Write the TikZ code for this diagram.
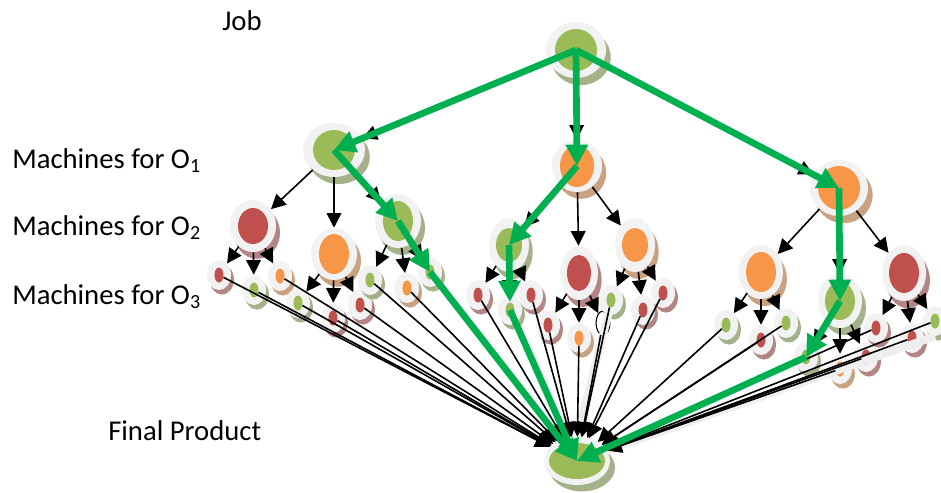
\documentclass[tikz,border=0pt]{standalone}
\usepackage{fontspec}
\setmainfont{Carlito}
\usetikzlibrary{arrows.meta,shapes.geometric}
\definecolor{mgreen}{HTML}{9BBB59}
\definecolor{mred}{HTML}{C0504D}
\definecolor{morange}{HTML}{F79646}
\definecolor{ringc}{HTML}{F2F2F2}
\definecolor{pathg}{HTML}{00B050}
\definecolor{bandc}{HTML}{EEEEEE}
% name, x, y, outer rx, outer ry, inner rx, inner ry, colour (all in px)
\newcommand\machnode[8]{%
  \node[ellipse,inner sep=0pt,fill=#8!50!gray!80!white,minimum width={#4*1.5pt},minimum height={#5*1.5pt}] (#1-s) at ({#2+0.1*#4+1.7},{#3+0.2*#5+1.6}) {};
  \node[ellipse,inner sep=0pt,fill=ringc,minimum width={#4*1.5pt},minimum height={#5*1.5pt}] (#1) at (#2,#3) {};
  \node[ellipse,inner sep=0pt,fill=#8,minimum width={#6*1.5pt},minimum height={#7*1.5pt}] (#1-i) at (#2,#3) {};
}
\newcommand\smallnode[4]{\machnode{#1}{#2}{#3}{12}{15}{4.5}{7.5}{#4}}
\tikzset{
  arr/.style={draw=black,line width=1.2pt,-{Triangle[length=11pt,width=11pt]}},
  garr/.style={draw=pathg,line width=5pt,-{Triangle[length=16pt,width=16pt]}},
  band/.style={draw=bandc,line width=6pt},
  lab/.style={font=\fontsize{21.5}{26}\selectfont,inner sep=0pt,anchor=base west}
}
\begin{document}
\begin{tikzpicture}[x=0.75pt,y=-0.75pt]
\useasboundingbox (0,0) rectangle (941,492);
% labels
\node[lab] (tjob) at (222,31) {Job};
\node[lab] (to1) at (12,168) {Machines for O\textsubscript{1}};
\node[lab] (to2) at (12,235) {Machines for O\textsubscript{2}};
\node[lab] (to3) at (12,304) {Machines for O\textsubscript{3}};
\node[lab] (tfin) at (108,440) {Final Product};
% final node
\machnode{F}{577}{461}{33}{24}{28}{18}{mgreen}
% level 0,1
\machnode{J}{576}{50}{30}{28}{21}{21}{mgreen}
\machnode{A}{334}{150}{31}{27}{21}{20}{mgreen}
\machnode{B}{577}{166}{25}{26}{17}{21}{morange}
\machnode{C}{839}{188}{29}{28}{21}{22}{morange}
% level 2
\machnode{A1}{253}{226}{23}{26}{15}{18}{mred}
\machnode{A2}{334}{254}{23}{26}{15}{20}{morange}
\machnode{A3}{398}{221}{23}{27}{15}{20}{mgreen}
\machnode{B1}{509}{245}{20}{27}{13}{17}{mgreen}
\machnode{B2}{579}{273}{19}{27}{12}{18}{mred}
\machnode{B3}{635}{245}{20}{27}{13}{17}{morange}
\machnode{C1}{761}{272}{22}{27}{15}{20}{morange}
\machnode{C2}{840}{301}{22}{27}{15}{19}{mgreen}
\machnode{C3}{904}{273}{22}{28}{15}{20}{mred}
% level 3
\smallnode{A1a}{219}{275}{mred}
\smallnode{A1b}{254}{290}{mgreen}
\smallnode{A1c}{280}{276}{morange}
\smallnode{A2a}{298}{303}{mgreen}
\smallnode{A2c}{360}{305}{mred}
\smallnode{A2b}{333}{318}{mred}
\smallnode{A3a}{370}{280}{mgreen}
\smallnode{A3b}{407}{288}{morange}
\smallnode{A3c}{430}{272}{mgreen}
\smallnode{B1a}{478}{295}{mred}
\smallnode{B1c}{531}{295}{mred}
\smallnode{B1b}{510}{310}{mgreen}
\smallnode{B2a}{548}{325}{mred}
\smallnode{B2b}{579}{338}{morange}
\node[ellipse,draw=black,line width=0.8pt,inner sep=0pt,minimum width=10.5pt,minimum height=18pt] (B2c) at (603,323) {};
\smallnode{B3a}{611}{300}{mgreen}
\smallnode{B3c}{663}{293}{mred}
\smallnode{B3b}{643}{310}{mred}
\smallnode{C1a}{726}{325}{mgreen}
\smallnode{C1c}{786}{323}{mgreen}
\smallnode{C1b}{761}{340}{mred}
\smallnode{C3a}{876}{328}{mred}
\smallnode{C3b}{912}{338}{mred}
\smallnode{C3c}{935}{321}{mgreen}
\smallnode{C2a}{806}{357}{mgreen}
\smallnode{C2c}{866}{357}{mred}
\smallnode{C2b}{840}{369}{morange}
% light bands
\draw[band] (B2c.north east) -- (F.north);
\draw[band] (C3c.south) -- (F);
% tree arrows
\foreach \p in {A,B,C} \draw[arr] (J) -- (\p);
\foreach \p in {A,B,C} \foreach \q in {1,2,3} \draw[arr] (\p) -- (\p\q);
\foreach \p in {A1,A2,A3,B1,B2,B3,C1,C2,C3} \foreach \q in {a,b} \draw[arr] (\p) -- (\p\q);
\foreach \p in {A1,A2,A3,B1,B3,C1,C2,C3} \draw[arr] (\p) -- (\p c);
\draw[arr] (B2) -- (B2c);
% lines to final product
\foreach \p in {A1,A2,A3,B1,B2,B3,C1,C2,C3} \foreach \q in {a,b} \draw[arr] (\p\q-i) -- (F);
\foreach \p in {A1,A2,A3,B1,B3,C1,C2,C3} \draw[arr] (\p c-i) -- (F);
\draw[arr] (B2c) -- (F);
% green path
\draw[garr] (J.center) -- (A.center);
\draw[garr] (J.center) -- (B.center);
\draw[garr] (J.center) -- (C.center);
\draw[garr] (A.center) -- (A3.center);
\draw[garr] (A3.center) -- (A3c.center);
\draw[garr] (A3c.center) -- (F.center);
\draw[garr] (B.center) -- (B1.center);
\draw[garr,shorten >=6pt] (B1.center) -- (B1b.center);
\draw[garr] (B1b.center) -- (F.center);
\draw[garr] (C.center) -- (C2.center);
\draw[garr] (C2.center) -- (C2a.center);
\draw[garr] (C2a.center) -- (F.center);
\end{tikzpicture}
\end{document}
